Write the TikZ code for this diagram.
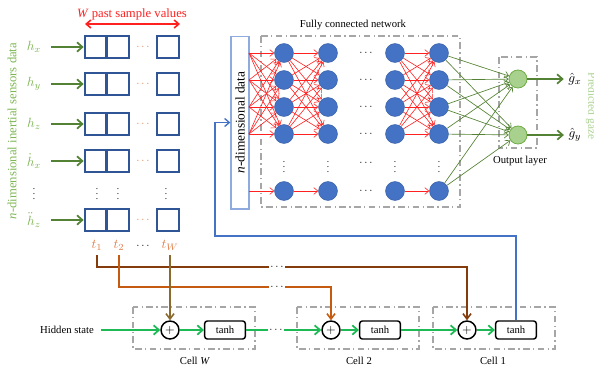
\documentclass[tikz,border=0pt]{standalone}
\usepackage{fontspec}
\setmainfont{Liberation Serif}
\usetikzlibrary{arrows.meta}

\definecolor{sampleblue}{HTML}{2F5597}
\definecolor{nblue}{HTML}{4472C4}
\definecolor{ndimblue}{HTML}{8FAADC}
\definecolor{sensgreen}{HTML}{7DB653}
\definecolor{darkgreen}{HTML}{548235}
\definecolor{lightgreen}{HTML}{A9D18E}
\definecolor{outgreen}{HTML}{70AD47}
\definecolor{hiddengreen}{HTML}{1DB954}
\definecolor{tbrown}{HTML}{843C0C}
\definecolor{torange}{HTML}{C55A11}
\definecolor{tolive}{HTML}{8B6A2E}
\definecolor{tlabel}{HTML}{E07B45}
\definecolor{cellgray}{HTML}{A6A6A6}
\definecolor{fcred}{HTML}{FF2020}

\tikzset{
  sample/.style={draw=sampleblue, line width=1.5pt, minimum size=16.2pt, inner sep=0pt},
  sensor/.style={text=sensgreen, font=\fontsize{10}{12}\selectfont, inner sep=1.5pt},
  inarrow/.style={draw=darkgreen, line width=1.5pt, shorten <=6pt,
    -{Straight Barb[length=4pt,width=7pt,line width=1.3pt]}},
  tdots/.style={text=tlabel, inner sep=1pt},
  neuron/.style={circle, fill=nblue, draw=nblue!85!black, line width=0.4pt,
    minimum size=14.2pt, inner sep=0pt},
  outneuron/.style={circle, fill=lightgreen, draw=outgreen, line width=0.6pt,
    minimum size=13.5pt, inner sep=0pt},
  redc/.style={draw=fcred, line width=0.45pt,
    -{Straight Barb[length=3pt,width=5pt,line width=0.45pt]}},
  greenc/.style={draw=darkgreen, line width=0.5pt,
    -{Straight Barb[length=3pt,width=5pt,line width=0.5pt]}},
  outarrow/.style={draw=darkgreen, line width=1.6pt,
    -{Straight Barb[length=4pt,width=7pt,line width=1.3pt]}},
  dashdot/.style={draw=cellgray, line width=1.3pt,
    dash pattern=on 5pt off 2.5pt on 1pt off 2.5pt},
  plusnode/.style={circle, draw=black, line width=1.1pt, minimum size=13.5pt,
    inner sep=0pt, font=\fontsize{9}{10}\selectfont},
  tanhbox/.style={draw=black, line width=1.1pt, rounded corners=2pt,
    minimum width=30.5pt, minimum height=13.5pt, inner sep=0pt},
  hidden/.style={draw=hiddengreen, line width=1.5pt},
  hiddenarrow/.style={hidden, -{Straight Barb[length=4pt,width=7pt,line width=1.3pt]}},
  timeline/.style={line width=1.5pt,
    -{Straight Barb[length=4pt,width=6pt,line width=1.2pt]}},
  blackdots/.style={inner sep=1pt, font=\fontsize{8}{9}\selectfont\bfseries},
}

\begin{document}
\begin{tikzpicture}[x=0.75pt, y=-0.75pt, font=\fontsize{8}{9.6}\selectfont]
\useasboundingbox (0,0) rectangle (594,368);

% ---------- sliding window of sensor samples ----------
\node[rotate=90, text=sensgreen, inner sep=1pt, font=\fontsize{9.5}{11}\selectfont] (sens) at (12,131)
  {\textit{n}-dimensional inertial sensors data};

\node[text=fcred, font=\fontsize{9.5}{11}\selectfont] (wtxt) at (132,14)
  {\textit{W} past sample values};
\coordinate (wl) at (85,24);
\coordinate (wr) at (180,24);
\draw[draw=fcred, line width=1.4pt,
  {Straight Barb[length=3.5pt,width=6pt,line width=1.2pt]}-{Straight Barb[length=3.5pt,width=6pt,line width=1.2pt]}]
  (wl) -- (wr);

\foreach \r/\yy/\lab in {1/47/{h_x},2/84/{h_y},3/124/{h_z},4/161/{\dot{h}_x},5/220/{\ddot{h}_z}} {
  \node[sample] (b\r-1) at (95.5,\yy) {};
  \node[sample] (b\r-2) at (118.2,\yy) {};
  \node[sample] (b\r-3) at (168,\yy) {};
  \node[tdots] (d\r) at (143,\yy) {$\cdots$};
  \node[sensor] (h\r) at (34,\yy) {$\lab$};
  \draw[inarrow] (h\r) -- (b\r-1);
}
\foreach \xx/\nm in {34/va,97/vb,118/vc,166/vd} {
  \node[inner sep=0pt, font=\fontsize{7}{8}\selectfont] (\nm) at (\xx,190) {$\vdots$};
}

% time stamps
\node[text=tlabel, font=\fontsize{10}{12}\selectfont] (t1) at (97,245) {$t_1$};
\node[text=tlabel, font=\fontsize{10}{12}\selectfont] (t2) at (119,245) {$t_2$};
\node[blackdots] (tdot) at (143,246) {$\cdots$};
\node[text=tlabel, font=\fontsize{10}{12}\selectfont] (tW) at (170,245) {$t_W$};

% ---------- recurrent cells ----------
\draw[dashdot] (133,307) rectangle (255,349);
\draw[dashdot] (297,307) rectangle (419,349);
\draw[dashdot] (433,307) rectangle (555,349);
\node (cW) at (195,361) {Cell \textit{W}};
\node (c2) at (359,361) {Cell 2};
\node (c1) at (493,361) {Cell 1};

\node[plusnode] (pW) at (170,330) {$+$};
\node[plusnode] (p2) at (331,330) {$+$};
\node[plusnode] (p1) at (467,330) {$+$};
\node[tanhbox] (aW) at (225,330) {tanh};
\node[tanhbox] (a2) at (380,330) {tanh};
\node[tanhbox] (a1) at (516,330) {tanh};

\node (hs) at (67,330) {Hidden state};
\node[blackdots] (dc) at (276,330) {$\cdots$};
\draw[hiddenarrow, shorten <=2pt] (hs) -- (pW);
\draw[hiddenarrow] (pW) -- (aW);
\draw[hidden] (aW) -- (dc);
\draw[hiddenarrow] (dc) -- (p2);
\draw[hiddenarrow] (p2) -- (a2);
\draw[hiddenarrow] (a2) -- (p1);
\draw[hiddenarrow] (p1) -- (a1);

% samples routed to the cells
\node[blackdots] (da) at (277,267) {$\cdots$};
\node[blackdots] (db) at (277,287) {$\cdots$};
\draw[draw=tbrown, line width=1.5pt] (t1.south) |- (da.west);
\draw[timeline, draw=tbrown] (da.east) -| (p1.north);
\draw[draw=torange, line width=1.5pt] (t2.south) |- (db.west);
\draw[timeline, draw=torange] (db.east) -| (p2.north);
\draw[timeline, draw=tolive] (tW.south) -- (pW.north);

% ---------- fully connected network ----------
\node (fctxt) at (353,25) {Fully connected network};
\draw[dashdot] (261,36) rectangle (460,207);

\node[draw=ndimblue, fill=white, line width=1pt, rotate=90,
  minimum width=129.5pt, minimum height=13.5pt, inner sep=0pt,
  font=\fontsize{10}{12}\selectfont] (ndim) at (240,122.5)
  {\textit{n}-dimensional data};

\foreach \j/\yy in {1/53,2/80,3/107,4/134,5/191} {
  \coordinate (in\j) at (249,\yy);
  \node[neuron] (n1-\j) at (284,\yy) {};
  \node[neuron] (n2-\j) at (328,\yy) {};
  \node[neuron] (n3-\j) at (395,\yy) {};
  \node[neuron] (n4-\j) at (439,\yy) {};
  \node[inner sep=0pt] (nd\j) at (366,\yy) {$\cdots$};
}
\node[inner sep=0pt] (ndv) at (366,163) {$\cdots$};
\foreach \xx/\nm in {284/v1,328/v2,395/v3,439/v4} {
  \node[inner sep=0pt, font=\fontsize{7}{8}\selectfont] (\nm) at (\xx,163) {$\vdots$};
}

\foreach \i in {1,...,4} {
  \foreach \j in {1,...,4} {
    \draw[redc] (in\i) -- (n1-\j);
    \draw[redc] (n1-\i) -- (n2-\j);
    \draw[redc] (n3-\i) -- (n4-\j);
  }
}
\draw[redc] (in5) -- (n1-5);
\draw[redc] (n1-5) -- (n2-5);
\draw[redc] (n3-5) -- (n4-5);

% output layer
\draw[dashdot] (499,57) rectangle (537,148);
\node (oltxt) at (520,161) {Output layer};
\node[outneuron] (o1) at (518,79) {};
\node[outneuron] (o2) at (518,135) {};
\foreach \j in {1,...,5} {
  \draw[greenc] (n4-\j) -- (o1);
  \draw[greenc] (n4-\j) -- (o2);
}
\node[font=\fontsize{10}{12}\selectfont] (gx) at (575,79) {$\hat{g}_x$};
\node[font=\fontsize{10}{12}\selectfont] (gy) at (575,135) {$\hat{g}_y$};
\draw[outarrow] (o1) -- (gx);
\draw[outarrow] (o2) -- (gy);
\node[rotate=-90, text=lightgreen, inner sep=0pt, font=\fontsize{8.5}{10}\selectfont] (gaze) at (591,106)
  {Predicted gaze};

% feedback from the last cell into the network
\coordinate (fb) at (215,236);
\draw[draw=nblue, line width=1.1pt,
  -{Straight Barb[length=3.5pt,width=6pt,line width=1pt]}]
  (a1.north) |- (fb) |- (ndim.north);
\end{tikzpicture}
\end{document}
